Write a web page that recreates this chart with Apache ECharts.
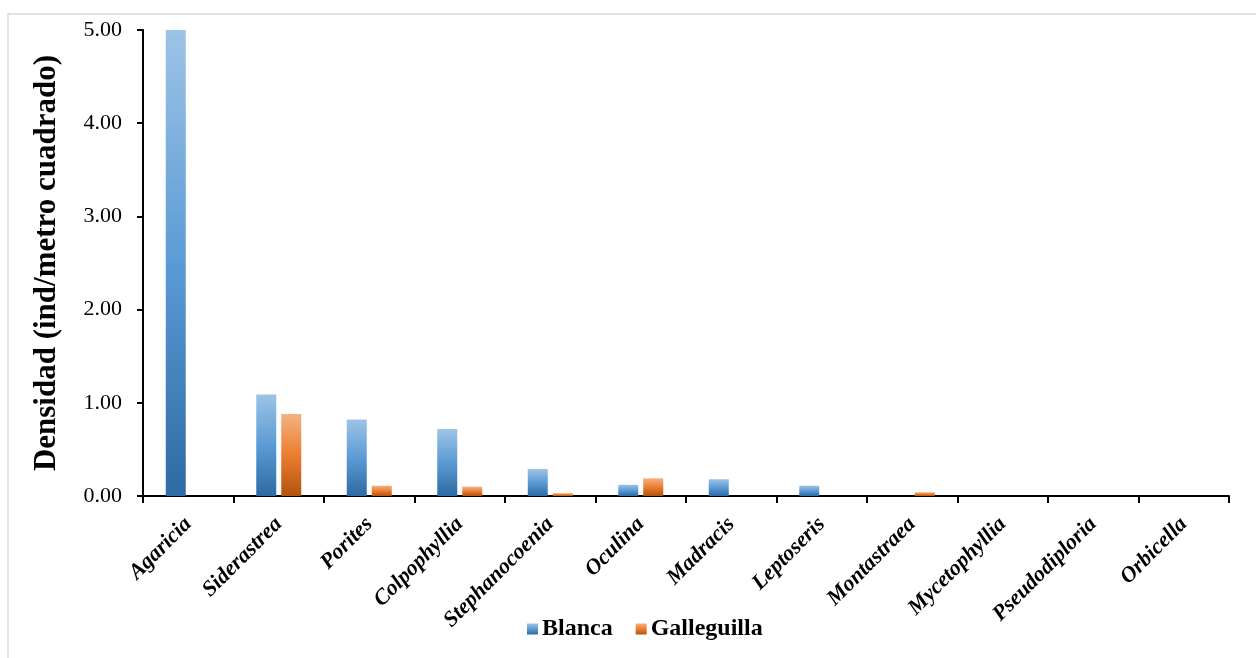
<!DOCTYPE html>
<html>
<head>
<meta charset="utf-8">
<script src="https://cdn.jsdelivr.net/npm/echarts@6/dist/echarts.min.js"></script>
<style>
html,body{margin:0;padding:0;background:#fff;}
#chart{width:1256px;height:658px;}
</style>
</head>
<body>
<div id="chart"></div>
<script>
var categories = ['Agaricia','Siderastrea','Porites','Colpophyllia','Stephanocoenia','Oculina','Madracis','Leptoseris','Montastraea','Mycetophyllia','Pseudodiploria','Orbicella'];
var blanca = [5.00, 1.09, 0.82, 0.72, 0.29, 0.12, 0.18, 0.11, 0, 0, 0, 0];
var galleguilla = [0, 0.88, 0.11, 0.10, 0.03, 0.19, 0, 0, 0.04, 0, 0, 0];
var yTicks = [0, 1, 2, 3, 4, 5];

var serif = '"Liberation Serif", "Times New Roman", serif';
function grad(top, mid, bot){
  return new echarts.graphic.LinearGradient(0,0,0,1,[
    {offset:0,color:top},{offset:0.5,color:mid},{offset:1,color:bot}
  ]);
}
var chart = echarts.init(document.getElementById('chart'));
chart.setOption({
  backgroundColor:'#fff',
  animation:false,
  graphic:[{type:'rect',shape:{x:8,y:14,width:1270,height:680},style:{fill:'none',stroke:'#d9d9d9',lineWidth:1.5},silent:true}],
  grid:{left:143,right:27,top:30,bottom:162,containLabel:false},
  legend:{
    bottom:12,left:522,
    itemWidth:11,itemHeight:11,itemGap:23,
    textStyle:{fontFamily:serif,fontWeight:'bold',fontSize:24,color:'#000',padding:[0,0,0,-1]},
    data:[{name:'Blanca',icon:'rect'},{name:'Galleguilla',icon:'rect'}]
  },
  xAxis:{
    type:'category',data:categories,
    axisLine:{lineStyle:{color:'#000',width:2}},
    axisTick:{show:true,alignWithLabel:false,length:7,lineStyle:{color:'#000',width:2}},
    axisLabel:{interval:0,rotate:45,margin:25,fontFamily:serif,fontWeight:'bold',fontStyle:'italic',fontSize:22,color:'#000'}
  },
  yAxis:{
    type:'value',min:0,max:5,interval:1,
    name:'Densidad (ind/metro cuadrado)',nameLocation:'middle',nameGap:81,
    nameTextStyle:{fontFamily:serif,fontWeight:'bold',fontSize:31,color:'#000'},
    axisLine:{show:true,lineStyle:{color:'#000',width:2}},
    axisTick:{show:true,length:6,lineStyle:{color:'#000',width:2}},
    splitLine:{show:false},
    axisLabel:{margin:21,fontFamily:serif,fontSize:22,color:'#000',
      formatter:function(v){return yTicks.indexOf(v)>=0 ? v.toFixed(2) : '';}}
  },
  series:[
    {name:'Blanca',type:'bar',data:blanca,barWidth:20,barGap:'25%',
     itemStyle:{color:grad('#9dc3e6','#5b9bd5','#2e6aa4')}},
    {name:'Galleguilla',type:'bar',data:galleguilla,barWidth:20,barGap:'25%',
     itemStyle:{color:grad('#f4b183','#ed7d31','#b0530e')}}
  ]
});
</script>
</body>
</html>
